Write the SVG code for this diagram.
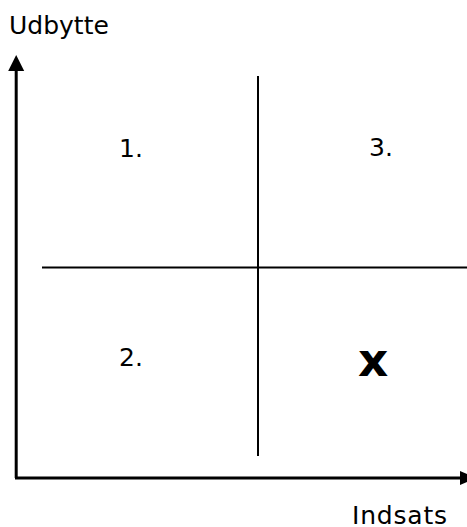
<svg xmlns="http://www.w3.org/2000/svg" width="467" height="527" viewBox="0 0 467 527">
<style>
.t{font-family:"DejaVu Sans",Verdana,sans-serif;font-size:25px;fill:#000}
.axis{stroke:#000;stroke-width:3;fill:none}
.div{stroke:#000;stroke-width:2;fill:none}
</style>
<rect width="467" height="527" fill="#fff"/>
<g id="connectors">
<path class="axis" d="M16.2 478 V68"/>
<polygon points="16.2,55 8.2,71 24.2,71" fill="#000"/>
<path class="axis" d="M15 478 H462"/>
<polygon points="476,478 460,471 460,485" fill="#000"/>
<path class="div" d="M258 76 V456"/>
<path class="div" d="M42 267.5 H467"/>
</g>
<g id="label-y"><text class="t" x="9" y="34">Udbytte</text></g>
<g id="label-x"><text class="t" x="352" y="524" letter-spacing="0.8">Indsats</text></g>
<g id="q1"><text class="t" x="119" y="157">1.</text></g>
<g id="q3"><text class="t" x="369" y="156">3.</text></g>
<g id="q2"><text class="t" x="119" y="366">2.</text></g>
<g id="q4"><text x="358" y="376" style="font-family:'DejaVu Sans',Verdana,sans-serif;font-weight:bold;font-size:47px">x</text></g>
</svg>
